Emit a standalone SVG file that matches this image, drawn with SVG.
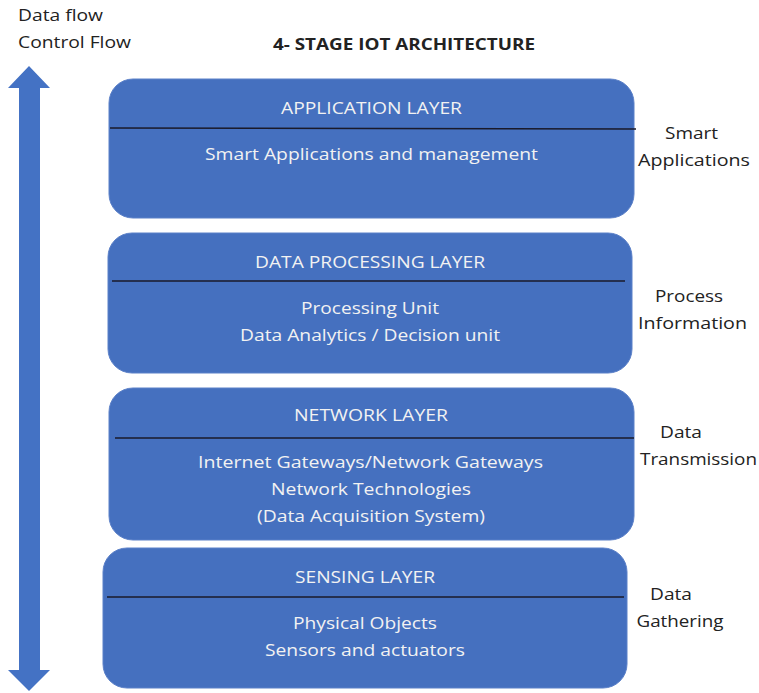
<svg xmlns="http://www.w3.org/2000/svg" width="759" height="693" viewBox="0 0 759 693">
<style>
.box{fill:#4570BF;stroke:#5B80C8;stroke-width:1}
.sep{stroke:#1a1a2a;stroke-width:1.5}
text{font-family:"Open Sans","Liberation Sans",Arial,sans-serif;font-size:17px}
.t{fill:#F2F2F2;text-anchor:middle}
.k{fill:#222}
.km{text-anchor:middle}
</style>
<rect width="759" height="693" fill="#fff"/>
<text class="k" x="18" y="21" textLength="85" lengthAdjust="spacingAndGlyphs">Data flow</text>
<text class="k" x="18" y="48" textLength="113" lengthAdjust="spacingAndGlyphs">Control Flow</text>
<text class="k km" x="404" y="50" style="font-weight:bold;font-size:16px" textLength="262" lengthAdjust="spacingAndGlyphs">4- STAGE IOT ARCHITECTURE</text>
<g id="connectors">
<polygon points="29,66 50,88 40,88 40,670 50,670 29,691 8,670 19,670 19,88 8,88" fill="#4472C4"/>
</g>
<g id="application">
<rect class="box" x="109" y="79" width="525" height="139" rx="24"/>
<line class="sep" x1="110" y1="128" x2="636" y2="129"/>
<text class="t" x="371.5" y="114" textLength="181" lengthAdjust="spacingAndGlyphs">APPLICATION LAYER</text>
<text class="t" x="371.5" y="160" textLength="333" lengthAdjust="spacingAndGlyphs">Smart Applications and management</text>
<text class="k km" x="691.5" y="139" textLength="53" lengthAdjust="spacingAndGlyphs">Smart</text>
<text class="k km" x="694" y="166" textLength="112" lengthAdjust="spacingAndGlyphs">Applications</text>
</g>
<g id="processing">
<rect class="box" x="108" y="233" width="524" height="140" rx="24"/>
<line class="sep" x1="112" y1="281" x2="625" y2="281"/>
<text class="t" x="370" y="268" textLength="230" lengthAdjust="spacingAndGlyphs">DATA PROCESSING LAYER</text>
<text class="t" x="370" y="314" textLength="138" lengthAdjust="spacingAndGlyphs">Processing Unit</text>
<text class="t" x="370" y="341" textLength="260" lengthAdjust="spacingAndGlyphs">Data Analytics / Decision unit</text>
<text class="k km" x="689" y="302" textLength="68" lengthAdjust="spacingAndGlyphs">Process</text>
<text class="k km" x="692.5" y="329" textLength="109" lengthAdjust="spacingAndGlyphs">Information</text>
</g>
<g id="network">
<rect class="box" x="109" y="388" width="525" height="152" rx="24"/>
<line class="sep" x1="115" y1="438" x2="634" y2="438"/>
<text class="t" x="371" y="421" textLength="154" lengthAdjust="spacingAndGlyphs">NETWORK LAYER</text>
<text class="t" x="370.5" y="468" textLength="345" lengthAdjust="spacingAndGlyphs">Internet Gateways/Network Gateways</text>
<text class="t" x="371" y="495" textLength="200" lengthAdjust="spacingAndGlyphs">Network Technologies</text>
<text class="t" x="371" y="522" textLength="228" lengthAdjust="spacingAndGlyphs">(Data Acquisition System)</text>
<text class="k km" x="681" y="438" textLength="42" lengthAdjust="spacingAndGlyphs">Data</text>
<text class="k km" x="698.5" y="465" textLength="117" lengthAdjust="spacingAndGlyphs">Transmission</text>
</g>
<g id="sensing">
<rect class="box" x="103" y="548" width="524" height="140" rx="24"/>
<line class="sep" x1="107" y1="597" x2="624" y2="597"/>
<text class="t" x="365" y="583" textLength="140" lengthAdjust="spacingAndGlyphs">SENSING LAYER</text>
<text class="t" x="365" y="629" textLength="144" lengthAdjust="spacingAndGlyphs">Physical Objects</text>
<text class="t" x="365" y="656" textLength="200" lengthAdjust="spacingAndGlyphs">Sensors and actuators</text>
<text class="k km" x="671" y="600" textLength="42" lengthAdjust="spacingAndGlyphs">Data</text>
<text class="k km" x="680" y="627" textLength="87" lengthAdjust="spacingAndGlyphs">Gathering</text>
</g>
</svg>
